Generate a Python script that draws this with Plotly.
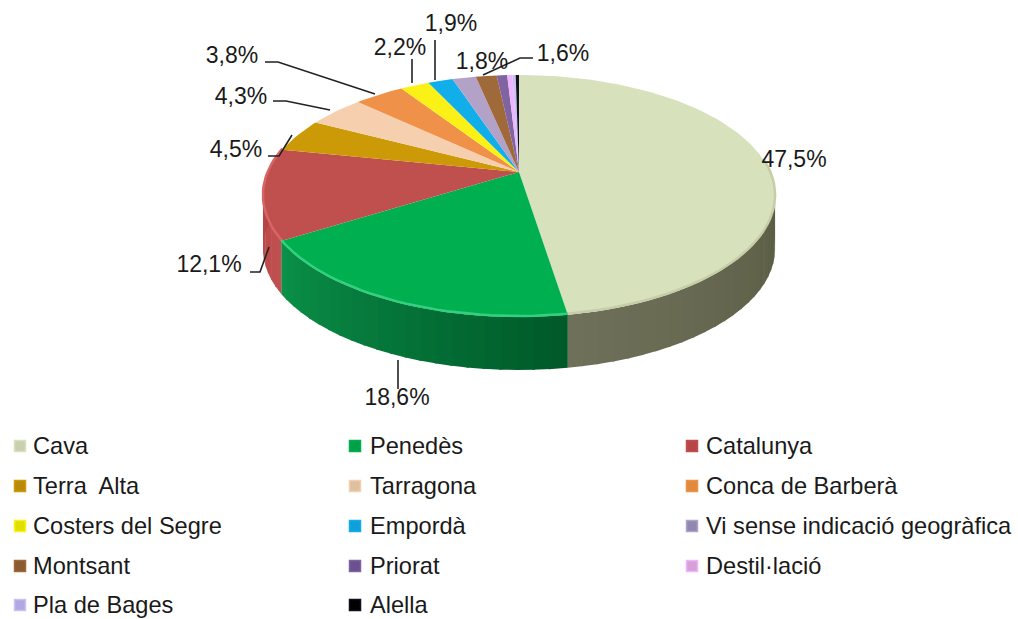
import math
import plotly.graph_objects as go

# ---- data ----
categories = ["Cava", "Penedès", "Catalunya", "Terra  Alta", "Tarragona", "Conca de Barberà",
              "Costers del Segre", "Empordà", "Vi sense indicació geogràfica", "Montsant",
              "Priorat", "Destil·lació", "Pla de Bages", "Alella"]
values = [47.5, 18.6, 12.1, 4.5, 4.3, 3.8, 2.2, 1.9, 1.8, 1.6, 0.8, 0.4, 0.25, 0.25]
value_labels = ["47,5%", "18,6%", "12,1%", "4,5%", "4,3%", "3,8%", "2,2%", "1,9%", "1,8%", "1,6%"]
colors = ["#d7e2bd", "#00b050", "#c0504d", "#cc9a06", "#f6cfae", "#f0914a", "#fcf116", "#12aeea",
          "#b2a2c7", "#a0693a", "#8064a2", "#eeb4ff", "#ccc1f2", "#101020"]

# ---- styles / geometry ----
FONT = "Liberation Sans"
CX, CY, A, B, K, H = 519, 172, 251, 116.3, 0.198, 53
wall_stops = {0: ("#55573f", "#6e7059"), 1: ("#005a2a", "#0a9048"), 2: ("#c04f4f", "#b03e3e")}
rim_colors = {0: "#c6cda8", 1: "#35cf80", 2: "#d86565"}
legend_marker_colors = ["#c8d0b0", "#00a04a", "#b8444a", "#b88a08", "#dcc0a0", "#e08a3c", "#e0e000",
                        "#109fd8", "#9088b0", "#8a5a30", "#6a5090", "#d8a0d8", "#b0a8e0", "#000000"]
legend_cols = [(20, 33), (355, 370), (692, 706)]
legend_rows = [448, 488, 528, 568, 607]
label_pos = [(794, 161), (397, 399), (209, 266), (236, 151), (241, 98),
             (232, 57), (400, 49), (451, 25), (482, 63), (563, 55)]
leaders = [[(398, 360), (398, 389)],
           [(250, 272), (260, 272), (269, 247)],
           [(268, 156), (279, 156), (292, 135)],
           [(273, 101), (286, 101), (330, 110)],
           [(265, 62), (278, 62), (375, 94)],
           [(412, 59), (412, 83)],
           [(435, 40), (435, 80)],
           [(533, 58), (520, 58), (483, 75)]]


def proj(theta, drop=0.0):
    u, v = math.sin(theta), -math.cos(theta)
    w = 1 - K * v
    return CX + A * u / w, CY + B * v / w + drop


def mix(c1, c2, t):
    a = [int(c1[i:i + 2], 16) for i in (1, 3, 5)]
    b = [int(c2[i:i + 2], 16) for i in (1, 3, 5)]
    return "#%02x%02x%02x" % tuple(round(p + (q - p) * t) for p, q in zip(a, b))


total = sum(values)
edges = [0.0]
for val in values:
    edges.append(edges[-1] + val / total * 2 * math.pi)

fig = go.Figure()

# side walls (front part of the disc), split in strips for the shading
for i, (c1, c2) in wall_stops.items():
    t0 = max(edges[i], math.radians(84))
    t1 = min(edges[i + 1], math.radians(282))
    n = max(2, int(math.degrees(t1 - t0) / 3))
    for j in range(n):
        a0 = t0 + (t1 - t0) * j / n
        a1 = min(t0 + (t1 - t0) * (j + 1.15) / n, t1)
        col = mix(c1, c2, j / (n - 1))
        p = [proj(a0), proj(a1), proj(a1, H), proj(a0, H)]
        fig.add_trace(go.Scatter(x=[q[0] for q in p], y=[q[1] for q in p], mode="lines",
                                 fill="toself", fillcolor=col, line=dict(width=0),
                                 hoverinfo="skip", showlegend=False))

# top face wedges
for i, name in enumerate(categories):
    n = max(2, int(math.degrees(edges[i + 1] - edges[i]) / 1.5))
    pts = [proj(edges[i] + (edges[i + 1] - edges[i]) * j / n) for j in range(n + 1)]
    xs = [CX] + [q[0] for q in pts] + [CX]
    ys = [CY] + [q[1] for q in pts] + [CY]
    fig.add_trace(go.Scatter(x=xs, y=ys, mode="lines", fill="toself", fillcolor=colors[i],
                             line=dict(width=0), name=name, showlegend=False,
                             text=f"{name}: {values[i]}%", hoverinfo="text"))

# bevel highlight on the front rim
for i, col in rim_colors.items():
    t0 = max(edges[i], math.radians(84))
    t1 = min(edges[i + 1], math.radians(290))
    n = max(2, int(math.degrees(t1 - t0) / 2))
    pts = [proj(t0 + (t1 - t0) * j / n, -1) for j in range(n + 1)]
    fig.add_trace(go.Scatter(x=[q[0] for q in pts], y=[q[1] for q in pts], mode="lines",
                             line=dict(color=col, width=2.5), hoverinfo="skip", showlegend=False))

# leader lines
for seg in leaders:
    fig.add_trace(go.Scatter(x=[q[0] for q in seg], y=[q[1] for q in seg], mode="lines",
                             line=dict(color="#222222", width=1.6), hoverinfo="skip", showlegend=False))

# value labels
fig.add_trace(go.Scatter(x=[q[0] for q in label_pos], y=[q[1] for q in label_pos], mode="text",
                         text=value_labels, textposition="middle center",
                         textfont=dict(family=FONT, size=23, color="#1a1a1a"),
                         hoverinfo="skip", showlegend=False))

# legend
lx, ly, tx, my = [], [], [], []
for i in range(len(categories)):
    row, col = divmod(i, 3)
    lx.append(legend_cols[col][0])
    tx.append(legend_cols[col][1])
    ly.append(legend_rows[row])
    my.append(legend_rows[row] - 2)
fig.add_trace(go.Scatter(x=lx, y=my, mode="markers", hoverinfo="skip", showlegend=False,
                         marker=dict(symbol="square", size=11, color=legend_marker_colors,
                                     line=dict(color=colors, width=1.5))))
fig.add_trace(go.Scatter(x=tx, y=ly, mode="text", text=categories, textposition="middle right",
                         textfont=dict(family=FONT, size=23.6, color="#1a1a1a"),
                         cliponaxis=False, hoverinfo="skip", showlegend=False))

fig.update_layout(width=1018, height=619, margin=dict(l=0, r=0, t=0, b=0), autosize=False,
                  paper_bgcolor="white", plot_bgcolor="white",
                  xaxis=dict(range=[0, 1018], visible=False, fixedrange=True),
                  yaxis=dict(range=[619, 0], visible=False, fixedrange=True))
fig.write_html("out.html", config={"displayModeBar": False},
               post_script="document.body.style.margin='0';document.body.style.overflow='hidden';")
